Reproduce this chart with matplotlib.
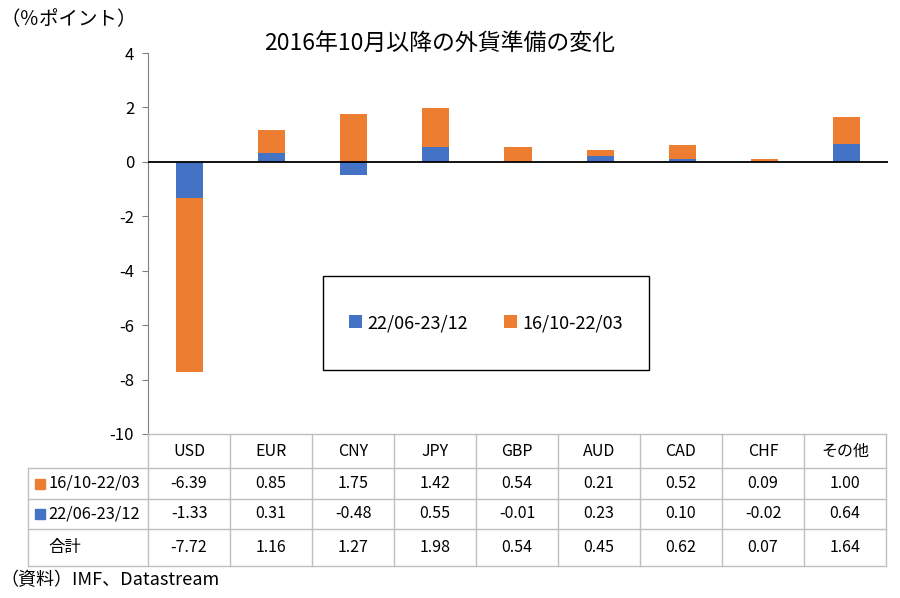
import numpy as np
import matplotlib.pyplot as plt

plt.rcParams['font.family'] = ['Noto Sans CJK JP', 'DejaVu Sans']
plt.rcParams['axes.unicode_minus'] = False

categories = ['USD', 'EUR', 'CNY', 'JPY', 'GBP', 'AUD', 'CAD', 'CHF', 'その他']
s_1610_2203 = [-6.39, 0.85, 1.75, 1.42, 0.54, 0.21, 0.52, 0.09, 1.00]
s_2206_2312 = [-1.33, 0.31, -0.48, 0.55, -0.01, 0.23, 0.10, -0.02, 0.64]
totals = ['-7.72', '1.16', '1.27', '1.98', '0.54', '0.45', '0.62', '0.07', '1.64']
label_old = '16/10-22/03'
label_new = '22/06-23/12'

BLUE = '#4472C4'
ORANGE = '#ED7D31'
GRID = '#BFBFBF'

fig = plt.figure(figsize=(9, 5.98), dpi=100)
ax = fig.add_axes([148 / 900, 1 - 434 / 598, (888 - 148) / 900, (434 - 53) / 598])

n = len(categories)
x = np.arange(n)
blue = np.array(s_2206_2312)
orange = np.array(s_1610_2203)
# excel style: positives and negatives stack separately
orange_bottom = np.where(np.sign(blue) == np.sign(orange), blue, 0)

ax.bar(x, blue, width=0.33, color=BLUE, label=label_new, zorder=2)
ax.bar(x, orange, width=0.33, bottom=orange_bottom, color=ORANGE, label=label_old, zorder=2)
ax.axhline(0, color='black', lw=1.3, zorder=3)

ax.set_xlim(-0.5, n - 0.5)
ax.set_ylim(-10, 4)
ax.set_yticks(range(-10, 5, 2))
ax.tick_params(axis='y', labelsize=12, length=4, color='#808080', width=0.8, pad=6)
ax.tick_params(axis='x', bottom=False, labelbottom=False)
for s in ['top', 'right', 'bottom']:
    ax.spines[s].set_visible(False)
ax.spines['left'].set_color('#808080')
ax.spines['left'].set_linewidth(0.8)

# legend box (excel style, fixed size)
bx, by = (323 - 148) / 740, (434 - 370) / 381
bw, bh = (649 - 323) / 740, (370 - 276) / 381
ax.add_patch(plt.Rectangle((bx, by), bw, bh, transform=ax.transAxes, fill=False,
                           edgecolor='black', lw=1.0, zorder=4))
ax.legend(loc='center', bbox_to_anchor=(bx, by, bw, bh), ncol=2, fontsize=13,
          frameon=False, handlelength=0.7, handleheight=0.7, handletextpad=0.3,
          columnspacing=2.0)

# data table under the chart (pixel coords -> figure fraction)
def fx(px):
    return px / 900

def fy(py):
    return 1 - py / 598

x_left = 28
x0 = 148
col_w = (886 - 148) / n
rows_y = [434, 468, 499, 529, 566]
line_kw = dict(color=GRID, lw=1.0, transform=fig.transFigure)

fig.add_artist(plt.Line2D([fx(x0), fx(886)], [fy(rows_y[0]), fy(rows_y[0])], **line_kw))
for yy in rows_y[1:]:
    fig.add_artist(plt.Line2D([fx(x_left), fx(886)], [fy(yy), fy(yy)], **line_kw))
fig.add_artist(plt.Line2D([fx(x_left), fx(x_left)], [fy(rows_y[1]), fy(rows_y[-1])], **line_kw))
for i in range(n + 1):
    xx = x0 + i * col_w
    fig.add_artist(plt.Line2D([fx(xx), fx(xx)], [fy(rows_y[0]), fy(rows_y[-1])], **line_kw))

row_vals = [categories,
            ['%.2f' % v for v in s_1610_2203],
            ['%.2f' % v for v in s_2206_2312],
            totals]
for r, vals in enumerate(row_vals):
    yc = (rows_y[r] + rows_y[r + 1]) / 2
    for i, v in enumerate(vals):
        fig.text(fx(x0 + (i + 0.5) * col_w), fy(yc), v, ha='center', va='center', fontsize=11.5)

row_labels = [(label_old, ORANGE), (label_new, BLUE), ('合計', None)]
for r, (lab, col) in enumerate(row_labels):
    yc = (rows_y[r + 1] + rows_y[r + 2]) / 2
    if col is not None:
        fig.patches.append(plt.Rectangle((fx(35), fy(yc + 5)), 10 / 900, 10 / 598,
                                         color=col, transform=fig.transFigure))
    fig.text(fx(48), fy(yc), lab, ha='left', va='center', fontsize=11.8)

fig.text(fx(440), fy(43), '2016年10月以降の外貨準備の変化', ha='center', va='center', fontsize=16.5)
fig.text(fx(0), fy(20), '（％ポイント）', ha='left', va='center', fontsize=14)
fig.text(fx(0), fy(580), '（資料）IMF、Datastream', ha='left', va='center', fontsize=13)

fig.savefig('out.png', dpi=100)
